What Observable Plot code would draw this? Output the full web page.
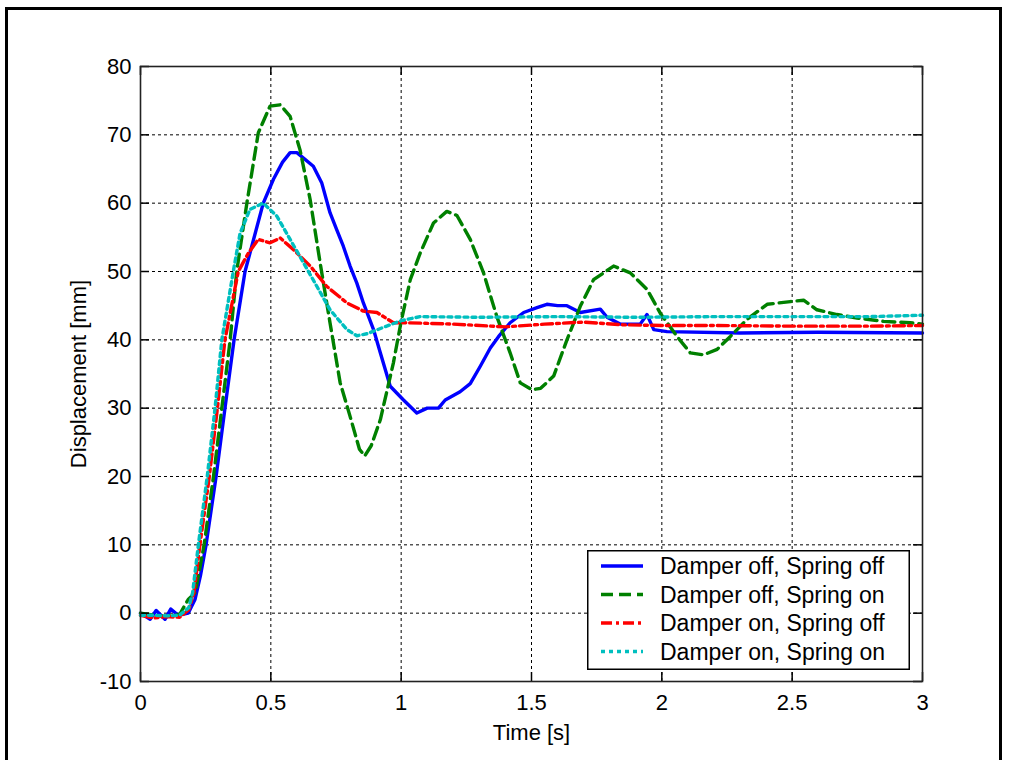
<!DOCTYPE html>
<html>
<head>
<meta charset="utf-8">
<script src="https://cdn.jsdelivr.net/npm/d3@7"></script>
<script src="https://cdn.jsdelivr.net/npm/@observablehq/plot@0.6"></script>
<style>
  html, body { margin: 0; padding: 0; background: #fff; overflow: hidden; }
  #wrap { position: relative; width: 1009px; height: 760px; }
  #border { position: absolute; left: 5px; top: 7px; width: 997px; height: 800px; border: 3px solid #000; box-sizing: border-box; }
  #legend { position: absolute; left: 587px; top: 550px; }
  svg text { font-family: "Liberation Sans", Arial, Helvetica, sans-serif; }
</style>
</head>
<body>
<div id="wrap">
  <div id="chart"></div>
  <div id="border"></div>
  <div id="legend"></div>
</div>
<script>
const seriesNames = ["Damper off, Spring off", "Damper off, Spring on", "Damper on, Spring off", "Damper on, Spring on"];
const seriesColors = ["#0000ff", "#008000", "#ff0000", "#00bfbf"];
const seriesDash = [null, "12,6", "11,4,3,4", "4,4"];

const xTicks = [0, 0.5, 1, 1.5, 2, 2.5, 3];
const yTicks = [-10, 0, 10, 20, 30, 40, 50, 60, 70, 80];

// Damper off, Spring off
const t1 = [0, 0.037, 0.06, 0.094, 0.116, 0.145, 0.183, 0.209, 0.23, 0.2515, 0.29, 0.324, 0.359, 0.401, 0.471, 0.51, 0.545, 0.574, 0.6, 0.663, 0.695, 0.727, 0.753, 0.778, 0.804, 0.83, 0.855, 0.894, 0.92, 0.958, 1.009, 1.06, 1.1, 1.143, 1.169, 1.226, 1.265, 1.303, 1.342, 1.374, 1.418, 1.47, 1.521, 1.559, 1.6, 1.636, 1.687, 1.764, 1.79, 1.84, 1.917, 1.943, 1.969, 2.02, 2.3, 2.6, 3.0];
const v1 = [0, -0.9, 0.4, -0.9, 0.6, -0.3, 0, 2, 5.5, 10, 20, 30, 40, 50, 60, 63.5, 66, 67.4, 67.4, 65.4, 63, 58.6, 56.1, 53.7, 50.8, 48.3, 45.4, 41.5, 38.1, 33.2, 31.2, 29.3, 30, 30, 31.2, 32.4, 33.6, 36.1, 38.8, 40.5, 42.5, 44, 44.7, 45.2, 45, 45, 44, 44.5, 43.3, 42.3, 42.3, 43.7, 41.5, 41.2, 41.0, 41.1, 41.0];

// Damper off, Spring on
const t2 = [0, 0.05, 0.1, 0.15, 0.183, 0.21, 0.244, 0.28, 0.312, 0.344, 0.369, 0.408, 0.452, 0.497, 0.536, 0.574, 0.612, 0.651, 0.689, 0.727, 0.766, 0.804, 0.84, 0.86, 0.885, 0.92, 0.97, 0.999, 1.035, 1.073, 1.124, 1.175, 1.214, 1.265, 1.316, 1.367, 1.418, 1.457, 1.502, 1.535, 1.585, 1.636, 1.687, 1.738, 1.815, 1.879, 1.943, 1.994, 2.058, 2.109, 2.16, 2.212, 2.263, 2.327, 2.404, 2.493, 2.544, 2.595, 2.672, 2.749, 2.851, 2.953, 3.0];
const v2 = [0, -0.3, -0.5, -0.2, 2, 3, 10, 20, 30, 40, 50, 60, 70.3, 74.2, 74.4, 72.7, 67.8, 60.5, 51.3, 42.5, 33.7, 28.8, 24, 23, 24.5, 28.3, 36.6, 42.5, 48.8, 52.7, 57.1, 58.8, 58.2, 54.7, 49.8, 43.4, 38.1, 33.7, 32.7, 32.9, 34.7, 40, 44.9, 48.8, 50.8, 49.8, 47.4, 43.9, 40.5, 38.1, 37.8, 38.6, 40.5, 43, 45.2, 45.6, 45.8, 44.4, 43.7, 43.2, 42.7, 42.5, 42.3];

// Damper on, Spring off
const t3 = [0, 0.05, 0.1, 0.15, 0.185, 0.205, 0.228, 0.264, 0.295, 0.324, 0.375, 0.414, 0.452, 0.497, 0.536, 0.587, 0.651, 0.715, 0.792, 0.855, 0.907, 0.97, 1.02, 1.2, 1.4, 1.55, 1.7, 1.85, 2.0, 2.2, 2.5, 2.8, 3.0];
const v3 = [-0.3, -0.7, -0.5, -0.6, 0.5, 3, 10, 20, 30, 40, 50, 52.7, 54.7, 54.2, 54.9, 53.2, 50.8, 47.8, 45.4, 44.2, 44, 42.5, 42.5, 42.3, 41.9, 42.3, 42.6, 42.2, 42.1, 42.1, 42.0, 42.0, 42.1];

// Damper on, Spring on
const t4 = [0, 0.05, 0.1, 0.15, 0.185, 0.2, 0.222, 0.256, 0.286, 0.312, 0.356, 0.382, 0.42, 0.471, 0.523, 0.574, 0.625, 0.677, 0.727, 0.792, 0.83, 0.87, 0.93, 1.0, 1.073, 1.3, 1.6, 1.9, 2.2, 2.5, 2.8, 3.0];
const v4 = [-0.3, -0.3, -0.4, -0.3, 0.8, 3, 10, 20, 30, 40, 50, 55.6, 59.1, 60, 58.1, 54.7, 51.3, 47.8, 44.4, 41.5, 40.6, 40.9, 41.8, 42.8, 43.4, 43.3, 43.4, 43.3, 43.4, 43.4, 43.4, 43.6];

const T = [t1, t2, t3, t4];
const V = [v1, v2, v3, v4];
const series = T.map((ts, i) => ts.map((t, j) => ({t, v: V[i][j], s: seriesNames[i]})));

const W = 1009, H = 760, mL = 140, mR = 87, mT = 66, mB = 79;
const pw = W - mL - mR, ph = H - mT - mB;
const tick = 9;
const fs = 22;

const chart = Plot.plot({
  width: W, height: H,
  marginLeft: mL, marginRight: mR, marginTop: mT, marginBottom: mB,
  style: {background: "#fff", fontFamily: "'Liberation Sans', Arial, sans-serif", fontSize: fs + "px", color: "#000"},
  x: {domain: [0, 3]},
  y: {domain: [-10, 80]},
  marks: [
    Plot.ruleX(xTicks, {x: d => d, stroke: "#000", strokeWidth: 1, strokeDasharray: "3,3", strokeOpacity: 1}),
    Plot.ruleY(yTicks, {y: d => d, stroke: "#000", strokeWidth: 1, strokeDasharray: "3,3", strokeOpacity: 1}),
    ...series.map((d, i) => Plot.line(d, {x: "t", y: "v", stroke: seriesColors[i], strokeWidth: 3.4, strokeDasharray: seriesDash[i], curve: "linear"})),
    Plot.tickX(xTicks, {x: d => d, insetTop: ph - tick, stroke: "#000", strokeWidth: 1.5}),
    Plot.tickX(xTicks, {x: d => d, insetBottom: ph - tick, stroke: "#000", strokeWidth: 1.5}),
    Plot.tickY(yTicks, {y: d => d, insetRight: pw - tick, stroke: "#000", strokeWidth: 1.5}),
    Plot.tickY(yTicks, {y: d => d, insetLeft: pw - tick, stroke: "#000", strokeWidth: 1.5}),
    Plot.frame({stroke: "#222", strokeWidth: 1.6}),
    Plot.axisX(xTicks, {tickSize: 0, tickPadding: 13, fontSize: fs, tickFormat: d => String(d), label: "Time [s]", labelAnchor: "center", labelArrow: "none", labelOffset: 58}),
    Plot.axisY(yTicks, {tickSize: 0, tickPadding: 9, fontSize: fs, tickFormat: d => String(d), label: "Displacement [mm]", labelAnchor: "center", labelArrow: "none", labelOffset: 70})
  ]
});
document.getElementById("chart").appendChild(chart);

// Legend
const lw = 323, lh = 120;
const rowY = [16, 44.5, 73, 101.5];
const lsvg = d3.select("#legend").append("svg").attr("width", lw).attr("height", lh);
lsvg.append("rect").attr("x", 0.75).attr("y", 0.75).attr("width", lw - 1.5).attr("height", lh - 1.5)
  .attr("fill", "#fff").attr("stroke", "#000").attr("stroke-width", 1.5);
seriesNames.forEach((name, i) => {
  lsvg.append("line").attr("x1", 14).attr("x2", 56).attr("y1", rowY[i]).attr("y2", rowY[i])
    .attr("stroke", seriesColors[i]).attr("stroke-width", 3.4)
    .attr("stroke-dasharray", seriesDash[i]);
  lsvg.append("text").attr("x", 73).attr("y", rowY[i]).attr("dy", "0.36em")
    .attr("font-size", 23).attr("fill", "#000").text(name);
});
</script>
</body>
</html>
